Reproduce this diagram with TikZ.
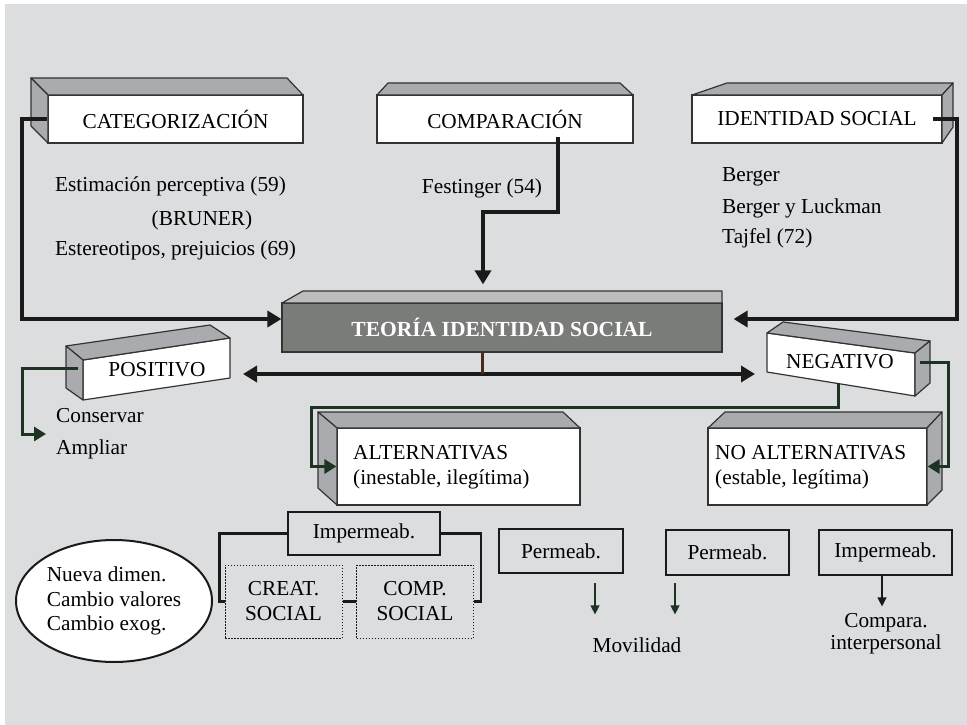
\documentclass[tikz,border=0pt]{standalone}
\usepackage{fontspec}
\setmainfont{Liberation Serif}
\usetikzlibrary{arrows.meta,shapes.geometric}
\definecolor{bgray}{HTML}{DCDDDF}
\definecolor{sidegray}{HTML}{A9ABAE}
\definecolor{teotop}{HTML}{BDBEBC}
\definecolor{teofront}{HTML}{7A7C79}
\definecolor{boxline}{HTML}{333333}
\definecolor{linecol}{HTML}{1A1A1A}
\definecolor{darkgreen}{HTML}{1F3322}
\definecolor{stemcol}{HTML}{4A2A18}

\begin{document}
\begin{tikzpicture}[
    x=1pt, y=-1pt,
    font=\fontsize{21.3}{25}\selectfont,
    front/.style={draw=boxline, line width=1.2pt, fill=white, inner sep=0pt},
    face/.style={draw=boxline, line width=1.2pt, fill=sidegray, line join=round},
    txt/.style={inner sep=0pt},
    conn/.style={draw=linecol, line width=4pt, -{Triangle[length=14pt,width=16pt]}},
    gconn/.style={draw=darkgreen, line width=3pt, -{Triangle[length=12pt,width=14pt]}},
    smallbox/.style={draw=linecol, line width=2.8pt, inner sep=0pt},
    dotbox/.style={draw=linecol, line width=1pt, dash pattern=on 1.5pt off 1.5pt,
        minimum width=117pt, minimum height=73pt, inner sep=0pt, align=center},
    bracket/.style={draw=linecol, line width=2.5pt},
    downarr/.style={draw=darkgreen, line width=1.3pt, -{Triangle[length=9pt,width=9pt]}}
]

% Background
\fill[bgray] (5,4) rectangle (967,725);
\useasboundingbox (0,0) rectangle (967,725);

% Top row
\node[front, minimum width=255pt, minimum height=48pt] (cat) at (175.5,119) {CATEGORIZACIÓN};
\filldraw[face] (48,95) -- (31,78) -- (287,78) -- (303,95) -- cycle;
\filldraw[face] (48,95) -- (31,78) -- (31,126) -- (48,143) -- cycle;

\node[front, minimum width=256pt, minimum height=48pt] (comp) at (505,119) {COMPARACIÓN};
\filldraw[face] (377,95) -- (388,83) -- (620,83) -- (633,95) -- cycle;

\node[front, minimum width=250pt, minimum height=48pt] (ident) at (817,119) {IDENTIDAD SOCIAL};
\filldraw[face] (692,95) -- (727,83) -- (953,83) -- (942,95) -- cycle;
\filldraw[face] (942,95) -- (953,83) -- (953,127) -- (942,143) -- cycle;

% Authors
\node[txt, anchor=west] (est) at (55,186) {Estimación perceptiva (59)};
\node[txt] (brun) at (202,220) {(BRUNER)};
\node[txt, anchor=west] (este) at (55,250) {Estereotipos, prejuicios (69)};
\node[txt] (fest) at (482,188) {Festinger (54)};
\node[txt, anchor=west] (berg) at (722,177) {Berger};
\node[txt, anchor=west] (bergl) at (722,208) {Berger y Luckman};
\node[txt, anchor=west] (taj) at (722,238) {Tajfel (72)};

% Theory
\node[front, fill=teofront, text=white, font=\bfseries\fontsize{21.5}{25}\selectfont,
    minimum width=440pt, minimum height=49pt] (teo) at (502,327.5) {TEORÍA IDENTIDAD SOCIAL};
\filldraw[face, fill=teotop] (282,303) -- (303,291) -- (722,291) -- (722,303) -- cycle;

% Positivo / Negativo
\filldraw[face, fill=white] (83,360) -- (230,338) -- (230,378) -- (83,400) -- cycle;
\filldraw[face] (66,346) -- (210,325) -- (230,338) -- (83,360) -- cycle;
\filldraw[face] (66,346) -- (83,360) -- (83,400) -- (66,388) -- cycle;
\node[txt] (pos) at (157,370) {POSITIVO};
\node[txt, anchor=west, align=left, font=\fontsize{21.3}{32}\selectfont] (cons) at (56,434) {Conservar\\Ampliar};

\filldraw[face, fill=white] (767,333) -- (915,353) -- (915,396) -- (767,372) -- cycle;
\filldraw[face] (767,333) -- (783,322) -- (930,341) -- (915,353) -- cycle;
\filldraw[face] (915,353) -- (930,341) -- (930,383) -- (915,396) -- cycle;
\node[txt] (neg) at (840,362) {NEGATIVO};

% Alternativas
\node[front, minimum width=243pt, minimum height=77pt] (alt) at (458.5,466.5) {};
\filldraw[face] (337,428) -- (318,412) -- (563,412) -- (580,428) -- cycle;
\filldraw[face] (337,428) -- (318,412) -- (318,488) -- (337,505) -- cycle;
\node[txt, anchor=west, align=left] (altt) at (353,467) {ALTERNATIVAS\\(inestable, ilegítima)};

\node[front, minimum width=219pt, minimum height=77pt] (noalt) at (817.5,466.5) {};
\filldraw[face] (708,428) -- (725,412) -- (942,412) -- (927,428) -- cycle;
\filldraw[face] (927,428) -- (942,412) -- (942,490) -- (927,505) -- cycle;
\node[txt, anchor=west, align=left] (noaltt) at (715,467) {NO ALTERNATIVAS\\(estable, legítima)};

% Connectors
\draw[conn] (cat.west) -- ++(-25,0) |- ([yshift=8.5pt]teo.west);
\draw[conn] ([xshift=53pt,yshift=-18pt]comp.center) -- ++(0,75) -| ([xshift=-19pt,yshift=18pt]teo.north);
\draw[conn] ([xshift=116pt]ident.center) -- ++(24,0) |- ([xshift=11pt,yshift=8.5pt]teo.east);

\coordinate (posin) at (243,374);
\coordinate (negin) at (755,374);
\draw[conn] ([xshift=-20pt]teo.south |- posin) -- (posin);
\draw[conn] ([xshift=-20pt]teo.south |- negin) -- (negin);
\draw[draw=stemcol, line width=3pt] ([xshift=-20pt]teo.south) -- ([xshift=-20pt]teo.south |- negin);

\draw[gconn] ([xshift=-79pt,yshift=2pt]pos.center) -- ++(-56,0) |- ([xshift=-10pt]cons.west);
\draw[gconn] ([xshift=-2pt,yshift=-21pt]neg.center) -- ++(0,24) -| ([xshift=-25pt]alt.west) -- (alt.west);
\draw[gconn] ([xshift=80pt]neg.center) -- ++(28,0) |- (noalt.east);

% Bottom row
\node[smallbox, fill=bgray, minimum width=152pt, minimum height=43pt] (imp1) at (364,533.5) {Impermeab.};
\node[dotbox] (creat) at (283.5,601.5) {CREAT.\\SOCIAL};
\node[dotbox] (comps) at (415,601.5) {COMP.\\SOCIAL};
\draw[bracket] (imp1.west) -| ([xshift=-5pt]creat.west) -- (creat.west);
\draw[bracket] (imp1.east) -| ([xshift=7pt]comps.east) -- (comps.east);
\draw[bracket] (creat.east) -- (comps.west);

\node[ellipse, draw=linecol, line width=2pt, fill=white, minimum width=196pt, minimum height=122pt,
    inner sep=0pt, align=left, font=\fontsize{21.3}{24.5}\selectfont] (ell) at (114,601)
    {Nueva dimen.\\Cambio valores\\Cambio exog.};

\node[smallbox, minimum width=124pt, minimum height=44pt] (perm1) at (561,551) {Permeab.};
\node[smallbox, minimum width=123pt, minimum height=45pt] (perm2) at (727.5,552.5) {Permeab.};
\node[smallbox, minimum width=133pt, minimum height=45pt] (imp2) at (885.5,552.5) {Impermeab.};

\draw[downarr] ([xshift=34pt,yshift=-9pt]perm1.south) -- ++(0,31);
\draw[downarr] ([xshift=-52.5pt,yshift=-7pt]perm2.south) -- ++(0,31);
\draw[downarr, draw=linecol] ([xshift=-3.5pt]imp2.south) -- ++(0,30);

\node[txt] (mov) at (637,645) {Movilidad};
\node[txt, align=center, font=\fontsize{21.3}{22}\selectfont] (compar) at (886,634) {Compara.\\interpersonal};

\end{tikzpicture}
\end{document}
